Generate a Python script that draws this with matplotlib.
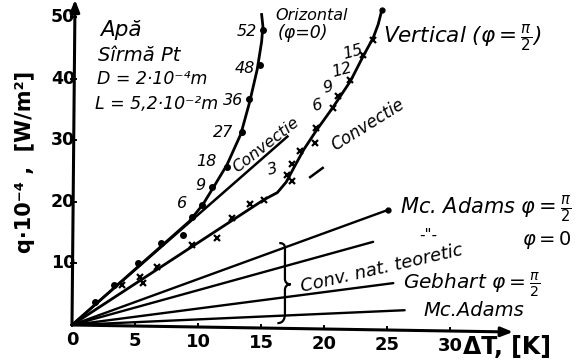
import matplotlib
matplotlib.use("Agg")
import matplotlib.pyplot as plt
from matplotlib.path import Path
from matplotlib.patches import PathPatch

# ---- data ---------------------------------------------------------------
# horizontal wire (phi = 0): measured points
orz_dT = [1.8, 3.3, 5.2, 7.1, 8.8, 9.5, 10.3, 11.1, 12.3, 13.5, 14.05, 14.9, 15.16]
orz_q = [3.7, 6.5, 10.1, 13.3, 14.6, 17.6, 19.5, 22.4, 25.6, 31.3, 36.7, 42.2, 47.9]
# hand-fitted curve through the horizontal-wire points
orz_curve_dT = [0, 9.3, 10.4, 11.3, 12.3, 13.4, 14.1, 14.7, 15.05, 15.15, 15.05]
orz_curve_q = [0, 16.8, 19.6, 22.6, 26.0, 31.0, 36.2, 41.5, 46.0, 48.5, 50.4]
orz_point_labels = ["6", "9", "18", "27", "36", "48", "52"]

# vertical wire (phi = pi/2): measured points
vert_dT = [4.0, 5.4, 5.6, 6.75, 9.5, 11.5, 12.7, 14.1, 15.2, 17.1, 17.5, 17.5,
           18.1, 19.3, 19.4, 20.7, 21.1, 22.1, 23.1, 23.9]
vert_q = [6.5, 7.8, 6.8, 9.4, 13.0, 14.1, 17.4, 19.6, 20.3, 24.4, 23.3, 26.2,
          28.3, 29.6, 32.0, 35.3, 37.1, 39.8, 43.9, 46.3]
vert_curve_dT = [0, 15.2, 16.3, 17.0, 17.6, 18.4, 19.4, 20.7, 22.1, 23.1, 23.9, 24.3, 24.6]
vert_curve_q = [0, 20.3, 21.5, 23.2, 25.5, 28.5, 31.6, 35.3, 39.6, 43.6, 46.6, 48.8, 51.2]
vert_point_labels = ["3", "6", "9", "12", "15"]

# pure convection lines
conv_orz_dT = [0, 17.1]
conv_orz_q = [0, 30.6]
conv_vert_ext_dT = [18.9, 19.9]
conv_vert_ext_q = [24.0, 25.5]

# theoretical natural convection (lines from the origin)
theory_names = ["Mc.Adams vert", "Mc.Adams oriz", "Gebhart", "Mc.Adams"]
theory_end_dT = [25.1, 23.9, 25.5, 26.4]
theory_end_q = [18.7, 13.5, 6.8, 2.4]

x_ticks = [0, 5, 10, 15, 20, 25, 30]
y_ticks = [10, 20, 30, 40, 50]

# ---- figure -------------------------------------------------------------
fig = plt.figure(figsize=(5.86, 3.63), dpi=100)
ax = fig.add_axes([0, 0, 1, 1])
ax.set_xlim(-72 / 12.6, (586 - 72) / 12.6)
ax.set_ylim(-(363 - 325) / 6.16, 325 / 6.16)
ax.axis("off")

K = "black"
hand = dict(color=K, style="italic", family="DejaVu Sans")

# axes drawn by hand, x axis slightly sloping
tilt = -0.0325
ax.annotate("", xy=(35.0, 35.0 * tilt), xytext=(0, 0),
            arrowprops=dict(arrowstyle="-|>,head_length=0.7,head_width=0.28",
                            lw=2.2, color=K, shrinkA=0, shrinkB=0))
ax.annotate("", xy=(0.24, 52.8), xytext=(0, 0),
            arrowprops=dict(arrowstyle="-|>,head_length=0.7,head_width=0.28",
                            lw=2.2, color=K, shrinkA=0, shrinkB=0))
for t in x_ticks[1:]:
    y0 = t * tilt
    ax.plot([t, t], [y0, y0 + 0.55], color=K, lw=1.4)
for t in x_ticks:
    ax.text(t, t * tilt - 2.45, str(t), ha="center", va="center",
            fontsize=13, fontweight="bold", color=K)
for t in y_ticks:
    ax.plot([-0.1, 0.35], [t, t], color=K, lw=1.4)
    ax.text(0.25, t, str(t), ha="right", va="center", fontsize=12.5,
            fontweight="bold", color=K)

ax.text(31.0, -3.6, "ΔT, [K]", ha="left", va="center", fontsize=17,
        fontweight="bold", color=K)
ax.text(-3.75, 26.5, "q·10⁻⁴ ,  [W/m²]", rotation=90, ha="center",
        va="center", fontsize=15, fontweight="bold", color=K)

# theoretical lines
for dT, q in zip(theory_end_dT, theory_end_q):
    ax.plot([0, dT], [0, q], color=K, lw=1.7, solid_capstyle="round")
ax.plot(theory_end_dT[:1], theory_end_q[:1], "o", color=K, ms=3.5)

# convection straight lines
ax.plot(conv_orz_dT, conv_orz_q, color=K, lw=1.8)
ax.plot(conv_vert_ext_dT, conv_vert_ext_q, color=K, lw=1.8)

# measured curves
ax.plot(orz_curve_dT, orz_curve_q, color=K, lw=2.0)
ax.plot(orz_dT, orz_q, "o", color=K, ms=4)
ax.plot(vert_curve_dT, vert_curve_q, color=K, lw=2.0)
ax.plot(vert_dT, vert_q, "x", color=K, ms=5, mew=1.6)
ax.plot(vert_curve_dT[-1:], vert_curve_q[-1:], "o", color=K, ms=3.5)

# labels of the measured points
orz_label_pos = [(8.73, 19.8), (10.16, 22.7), (10.7, 26.5), (12.0, 31.3),
                 (12.8, 36.5), (13.7, 41.7), (13.9, 47.6)]
for s, (x, y) in zip(orz_point_labels, orz_label_pos):
    ax.text(x, y, s, ha="center", va="center", fontsize=11.5, **hand)
vert_label_pos = [(15.95, 25.2), (19.5, 35.7), (20.3, 38.5), (21.4, 41.4),
                  (22.3, 44.3)]
for s, (x, y) in zip(vert_point_labels, vert_label_pos):
    ax.text(x, y, s, ha="center", va="center", fontsize=11.5, rotation=15,
            **hand)

# description of the experiment
ax.text(2.2, 47.9, "Apă", ha="left", va="center", fontsize=15.5, **hand)
ax.text(2.05, 43.8, "Sîrmă Pt", ha="left", va="center", fontsize=14, **hand)
ax.text(1.95, 39.9, "D = 2·10⁻⁴m", ha="left", va="center", fontsize=12.5, **hand)
ax.text(1.8, 35.9, "L = 5,2·10⁻²m", ha="left", va="center", fontsize=12.5, **hand)

# curve names
ax.text(16.1, 50.3, "Orizontal", ha="left", va="center", fontsize=11.5, **hand)
ax.text(16.3, 47.4, "(φ=0)", ha="left", va="center", fontsize=12.5, **hand)
ax.text(24.7, 46.6, r"Vertical ($\varphi=\frac{\pi}{2}$)", ha="left",
        va="center", fontsize=15.5, **hand)
ax.text(15.4, 29.2, "Convectie", ha="center", va="center", fontsize=11.5,
        rotation=38, **hand)
ax.text(23.5, 32.5, "Convectie", ha="center", va="center", fontsize=12,
        rotation=32, **hand)

# theoretical line names
ax.text(26.0, 18.8, r"Mc. Adams $\varphi=\frac{\pi}{2}$", ha="left",
        va="center", fontsize=15, **hand)
ax.text(28.3, 14.6, '-"-', ha="center", va="center", fontsize=11, **hand)
ax.text(35.7, 13.8, r"$\varphi = 0$", ha="left", va="center", fontsize=14,
        **hand)
ax.text(24.6, 9.25, "Conv. nat. teoretic", ha="center", va="center",
        fontsize=13, rotation=13, **hand)
ax.text(26.3, 6.5, r"Gebhart $\varphi=\frac{\pi}{2}$", ha="left",
        va="center", fontsize=14.5, **hand)
ax.text(27.9, 2.3, "Mc.Adams", ha="left", va="center", fontsize=14, **hand)

# curly brace grouping the theoretical lines
bx, top, mid, bot = 16.9, 13.3, 6.6, 0.3
brace = Path(
    [(bx - 0.45, top), (bx + 0.1, top), (bx, top - 0.8), (bx, top - 1.6),
     (bx, mid + 0.9),
     (bx, mid + 0.3), (bx + 0.2, mid), (bx + 0.45, mid),
     (bx + 0.2, mid), (bx, mid - 0.3), (bx, mid - 0.9),
     (bx, bot + 1.6),
     (bx, bot + 0.8), (bx - 0.1, bot), (bx - 0.6, bot)],
    [Path.MOVETO, Path.CURVE4, Path.CURVE4, Path.CURVE4,
     Path.LINETO,
     Path.CURVE4, Path.CURVE4, Path.CURVE4,
     Path.CURVE4, Path.CURVE4, Path.CURVE4,
     Path.LINETO,
     Path.CURVE4, Path.CURVE4, Path.CURVE4])
ax.add_patch(PathPatch(brace, fill=False, lw=1.6, color=K))

fig.savefig("out.png", dpi=100)
